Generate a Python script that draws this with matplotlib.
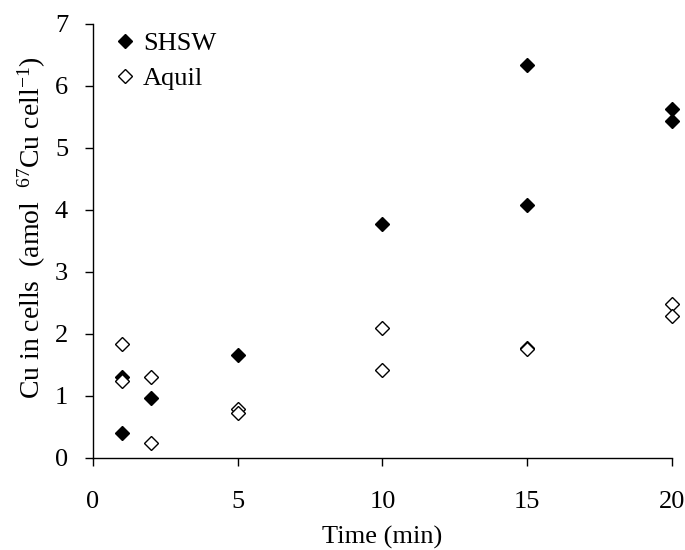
import matplotlib
matplotlib.use("Agg")
import matplotlib.pyplot as plt

plt.rcParams['font.family'] = ['Liberation Serif', 'DejaVu Serif']
plt.rcParams['mathtext.fontset'] = 'custom'
plt.rcParams['mathtext.rm'] = 'Liberation Serif'
plt.rcParams['mathtext.default'] = 'regular'

# Data
shsw_time = [1, 1, 2, 5, 10, 15, 15, 20, 20]
shsw_cu = [1.30, 0.39, 0.96, 1.66, 3.77, 6.33, 4.08, 5.63, 5.43]
aquil_time = [1, 1, 2, 2, 5, 5, 10, 10, 15, 15, 20, 20]
aquil_cu = [1.83, 1.23, 1.30, 0.24, 0.78, 0.72, 2.09, 1.42, 1.77, 1.75, 2.47, 2.28]

x_ticks = [0, 5, 10, 15, 20]
y_ticks = [0, 1, 2, 3, 4, 5, 6, 7]

fig = plt.figure(figsize=(6.85, 5.5), dpi=100)
ax = fig.add_axes([0.1358, 0.168, 0.845, 0.789])

ax.plot(shsw_time, shsw_cu, linestyle='none', marker='D', markersize=7.6,
        color='black', label='SHSW', clip_on=False, zorder=3)
ax.plot(aquil_time, aquil_cu, linestyle='none', marker='D', markersize=7.6,
        markerfacecolor='white', markeredgecolor='black', markeredgewidth=1.0,
        label='Aquil', clip_on=False, zorder=3)

ax.set_xlim(0, 20)
ax.set_ylim(0, 7)
ax.set_xticks(x_ticks)
ax.set_yticks(y_ticks)
ax.tick_params(direction='out', length=6, width=1, labelsize=19)
ax.tick_params(axis='x', pad=18)
ax.tick_params(axis='y', pad=12)
for s in ['top', 'right']:
    ax.spines[s].set_visible(False)
for s in ['left', 'bottom']:
    ax.spines[s].set_linewidth(1)

ax.set_xlabel('Time (min)', fontsize=19)
ax.xaxis.set_label_coords(0.5, -0.183)
ax.xaxis.label.set_va('center')
ax.set_ylabel('Cu in cells  (amol  $^{67}$Cu cell$^{-1}$)', fontsize=20)
ax.yaxis.set_label_coords(-0.105, 0.529)
ax.yaxis.label.set_va('center')

leg = ax.legend(loc='upper left', bbox_to_anchor=(-0.009, 1.025), frameon=False,
                fontsize=19, handletextpad=0.0, handlelength=1.4,
                labelspacing=0.45, borderaxespad=0.3)

fig.savefig('out.png', dpi=100)
